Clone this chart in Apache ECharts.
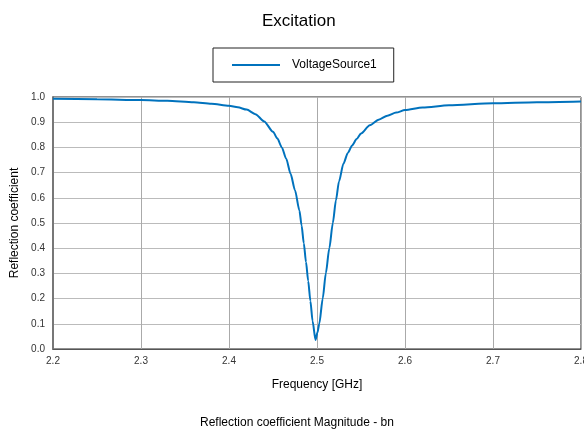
<!DOCTYPE html>
<html>
<head>
<meta charset="utf-8">
<script src="https://cdn.jsdelivr.net/npm/echarts@6/dist/echarts.min.js"></script>
<style>
html,body{margin:0;padding:0;background:#fff;}
#chart{width:584px;height:429px;}
</style>
</head>
<body>
<div id="chart"></div>
<script>
var frequency = [2.20, 2.25, 2.30, 2.33, 2.36, 2.38, 2.40, 2.41, 2.42, 2.43, 2.44, 2.45, 2.455, 2.46, 2.465, 2.47, 2.475, 2.48, 2.4825, 2.485, 2.4875, 2.49, 2.4925, 2.495, 2.4983, 2.5005, 2.5026, 2.5065, 2.51, 2.514, 2.518, 2.5215, 2.525, 2.53, 2.535, 2.54, 2.545, 2.55, 2.56, 2.57, 2.58, 2.59, 2.60, 2.62, 2.65, 2.70, 2.75, 2.80];
var reflection = [0.993, 0.991, 0.988, 0.985, 0.979, 0.973, 0.965, 0.959, 0.950, 0.932, 0.903, 0.862, 0.835, 0.800, 0.755, 0.695, 0.630, 0.550, 0.490, 0.420, 0.345, 0.270, 0.190, 0.110, 0.036, 0.065, 0.100, 0.200, 0.300, 0.400, 0.500, 0.590, 0.665, 0.735, 0.778, 0.808, 0.833, 0.855, 0.888, 0.910, 0.926, 0.938, 0.948, 0.958, 0.967, 0.975, 0.979, 0.982];
var seriesName = 'VoltageSource1';
var titleText = 'Excitation';
var subtitleText = 'Reflection coefficient Magnitude - bn';
var xName = 'Frequency [GHz]';
var yName = 'Reflection coefficient';

var points = frequency.map(function (f, i) { return [f, reflection[i]]; });
var font = 'Liberation Sans, Arial, sans-serif';

var chart = echarts.init(document.getElementById('chart'), null, {renderer: 'canvas'});
chart.setOption({
  animation: false,
  backgroundColor: '#fff',
  title: [
    {text: titleText, left: 257, top: 8, textStyle: {fontFamily: font, fontSize: 17, fontWeight: 'normal', color: '#000'}},
    {text: subtitleText, left: 195, top: 412, textStyle: {fontFamily: font, fontSize: 12, fontWeight: 'normal', color: '#000'}}
  ],
  legend: {
    data: [{name: seriesName, icon: 'rect'}],
    left: 213, top: 48,
    padding: [11, 17, 11, 19],
    itemWidth: 48, itemHeight: 2,
    borderColor: '#222', borderWidth: 1,
    backgroundColor: '#fff',
    textStyle: {fontFamily: font, fontSize: 12, color: '#000', padding: [0, 0, 0, 7]}
  },
  grid: {
    left: 53, right: 3, top: 97, bottom: 80,
    outerBoundsMode: 'none', containLabel: false,
    show: true, borderColor: '#222', borderWidth: 1, backgroundColor: '#fff'
  },
  xAxis: {
    type: 'value', min: 2.2, max: 2.8, interval: 0.1,
    name: xName, nameLocation: 'middle', nameGap: 30,
    nameTextStyle: {fontFamily: font, fontSize: 12, color: '#000'},
    axisLine: {show: true, lineStyle: {color: '#555', width: 1}},
    axisTick: {show: false},
    axisLabel: {fontFamily: font, fontSize: 10, color: '#333', margin: 7, formatter: function (v) { return v.toFixed(1); }},
    splitLine: {show: true, lineStyle: {color: '#aaa', width: 1}}
  },
  yAxis: {
    type: 'value', min: 0, max: 1, interval: 0.1,
    name: yName, nameLocation: 'middle', nameGap: 29,
    nameTextStyle: {fontFamily: font, fontSize: 12, color: '#000'},
    axisLine: {show: true, lineStyle: {color: '#777', width: 2}},
    axisTick: {show: false},
    axisLabel: {fontFamily: font, fontSize: 10, color: '#333', margin: 8, formatter: function (v) { return v.toFixed(1); }},
    splitLine: {show: true, lineStyle: {color: '#bbb', width: 1}}
  },
  series: [{
    name: seriesName,
    type: 'line',
    data: points,
    showSymbol: false,
    symbol: 'none',
    smooth: 0.25,
    smoothMonotone: 'x',
    color: '#0072BD',
    lineStyle: {color: '#0072BD', width: 2}
  }]
});
</script>
</body>
</html>
